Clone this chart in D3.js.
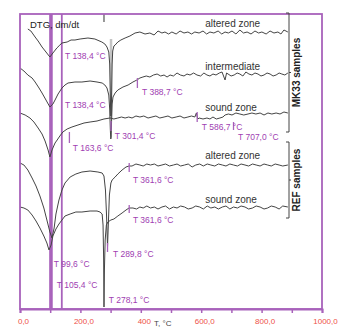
<!DOCTYPE html>
<html>
<head>
<meta charset="utf-8">
<script src="https://cdn.jsdelivr.net/npm/d3@7"></script>
<style>
  body { margin: 0; background: #fff; }
  text { font-family: "Liberation Sans", Arial, sans-serif; }
</style>
</head>
<body>
<svg id="chart" width="340" height="327"></svg>
<script>
// DTG curves, [T in °C, signal in arbitrary units]
var mkAltered = [[26,280],[36,278],[50,272],[60,268],[73,262],[86,257],[99,252],[109,256],[122,261],[132,264],[139,266],[156,267],[169,269],[182,269],[199,270],[225,271],[248,270],[271,267],[281,265],[288,262],[294,257],[297,245],[299,215],[300.5,193],[302,194],[303.5,218],[305,245],[307,258],[311,263],[315,264],[324,267],[334,269],[348,271],[364,273],[381,276],[397,277],[414,275],[430,276],[444,274],[457,278],[470,276],[480,277],[492,275],[503,277],[517,275],[530,278],[543,276],[556,277],[568,275],[579,277],[593,276],[606,278],[618,275],[629,277],[642,276],[656,278],[668,275],[679,277],[690,276],[702,278],[715,275],[728,279],[740,276],[752,277],[765,275],[778,278],[790,276],[801,277],[815,275],[828,278],[841,276],[854,277],[864,275],[874,279],[887,277]];
var mkInter = [[0,241],[13,238],[26,234],[40,231],[50,227],[63,221],[73,216],[86,209],[99,202],[109,205],[116,209],[126,215],[139,221],[149,224],[159,226],[182,227],[205,227],[232,228],[255,227],[272,226],[281,224],[288,221],[294,214],[297,200],[299,180],[300.5,170],[302,172],[303.5,192],[305,205],[308,212],[315,216],[324,219],[341,222],[358,224],[374,227],[387,229],[397,231],[407,232],[418,233],[430,232],[442,234],[454,235],[466,233],[477,234],[487,232],[497,234],[508,233],[520,236],[531,234],[543,233],[553,235],[563,234],[575,236],[586,234],[598,233],[609,236],[619,234],[629,233],[639,235],[649,234],[660,236],[669,237],[679,229],[684,236],[689,235],[699,233],[709,234],[719,236],[728,235],[738,233],[748,237],[758,235],[768,234],[778,236],[788,235],[798,233],[808,234],[818,236],[828,235],[838,233],[848,234],[858,236],[867,235],[877,234],[887,236]];
var mkSound = [[0,196],[17,194],[33,191],[46,187],[60,181],[73,175],[83,168],[93,159],[99,152],[106,159],[116,166],[123,169],[132,173],[142,177],[156,180],[172,182],[192,184],[212,186],[232,187],[255,188],[278,190],[298,191],[311,190],[324,191],[336,192],[348,191],[360,192],[371,191],[384,193],[397,192],[410,193],[424,191],[437,192],[450,193],[463,191],[477,192],[490,193],[503,191],[517,192],[530,193],[543,191],[556,192],[568,193],[579,192],[584,196],[589,190],[593,191],[606,190],[619,191],[629,190],[639,192],[650,190],[662,191],[672,192],[679,194],[690,195],[702,194],[715,196],[728,195],[741,194],[755,195],[768,196],[781,195],[795,196],[808,194],[821,196],[834,195],[848,196],[861,195],[874,197],[887,196]];
var refAltered = [[0,146],[13,144],[26,139],[40,131],[53,123],[66,113],[79,101],[89,89],[99,77],[106,71],[113,81],[119,95],[129,109],[139,119],[149,126],[166,132],[185,135],[205,137],[232,138],[258,137],[272,136],[278,133],[283,119],[286.5,94],[289.8,62],[293,89],[296,114],[301,126],[305,129],[315,132],[324,135],[338,139],[351,142],[361,143],[371,143],[384,145],[397,144],[408,143],[420,145],[432,144],[445,145],[457,143],[470,144],[482,145],[495,143],[508,144],[520,145],[532,143],[545,144],[557,145],[570,142],[582,144],[595,145],[607,143],[620,145],[632,144],[645,143],[657,145],[670,144],[682,143],[695,145],[707,144],[720,143],[732,145],[745,144],[757,143],[770,145],[782,144],[795,143],[808,145],[820,144],[832,143],[845,145],[858,144],[870,143],[887,144]];
var refSound = [[0,102],[13,101],[26,99],[40,94],[53,88],[66,81],[79,73],[89,66],[96,59],[103,64],[109,73],[119,80],[129,85],[139,89],[149,93],[166,95],[185,97],[205,97],[232,98],[255,98],[265,97],[272,95],[275,84],[277,49],[278.1,2],[279.5,39],[282,69],[286,84],[291,87],[301,89],[311,90],[324,93],[338,96],[351,99],[361,101],[374,101],[386,100],[397,102],[408,101],[420,103],[432,101],[445,102],[457,100],[470,102],[482,103],[495,100],[508,102],[520,101],[532,103],[545,102],[557,100],[570,101],[582,103],[595,102],[607,100],[620,103],[632,101],[645,102],[657,100],[670,102],[682,103],[695,100],[707,102],[720,101],[732,103],[745,102],[757,100],[770,101],[782,103],[795,102],[808,100],[820,101],[832,103],[845,102],[858,100],[870,103],[887,102]];

var curves = [mkAltered, mkInter, mkSound, refAltered, refSound];
var curveNames = ["altered zone", "intermediate", "sound zone", "altered zone", "sound zone"];
var curveNameAt = [[613,282],[613,239],[613,198],[613,150],[613,106]];

// full height marker lines and short peak marks
var fullLines = [99.6, 105.4, 138.4];
var peakMarks = [[163.6,177,166],[388.7,231,221],[301.4,188,178],[586.7,197,187],[707.0,187,179],[361.6,146,137],[361.6,104,96],[289.8,66,57]];
var peakLabels = [
  ["T 138,4 °C",149,250],["T 138,4 °C",149,201],["T 163,6 °C",175,158],["T 301,4 °C",314,170],
  ["T 388,7 °C",404,214],["T 586,7 °C",602,179],["T 707,0 °C",722,169],["T 361,6 °C",374,126],
  ["T 361,6 °C",374,86],["T 289,8 °C",308,52],["T 99,6 °C",112,42],["T 105,4 °C",122,21],["T 278,1 °C",294,6]
];

var xTicks = [0,100,200,300,400,500,600,700,800,900,1000];
var xTickLabels = ["0,0","","200,0","","400","","600,0","","800,0","","1000,0"];

var purple = "#a862bb";
var svg = d3.select("#chart");
var x = d3.scaleLinear().domain([0, 1000]).range([20, 322]);
var y = d3.scaleLinear().domain([0, 295]).range([309, 14]);

// grey band at 301.4 dip
svg.append("line")
  .attr("x1", x(301.4)).attr("x2", x(301.4))
  .attr("y1", y(270)).attr("y2", y(191))
  .attr("stroke", "#c4c4c4").attr("stroke-width", 2.5);

// vertical marker lines
svg.selectAll(".vline").data(fullLines).enter().append("line")
  .attr("class", "vline")
  .attr("x1", function(d){ return x(d); }).attr("x2", function(d){ return x(d); })
  .attr("y1", y(295)).attr("y2", y(0))
  .attr("stroke", purple).attr("stroke-width", 1.8);

// small black tick on top
svg.append("line")
  .attr("x1", x(278.1)).attr("x2", x(278.1))
  .attr("y1", y(295)).attr("y2", y(287))
  .attr("stroke", "#333").attr("stroke-width", 1);

var line = d3.line()
  .x(function(d){ return x(d[0]); })
  .y(function(d){ return y(d[1]); });

svg.selectAll(".curve").data(curves).enter().append("path")
  .attr("class", "curve")
  .attr("d", line)
  .attr("fill", "none")
  .attr("stroke", "#444")
  .attr("stroke-width", 1);

svg.selectAll(".pmark").data(peakMarks).enter().append("line")
  .attr("class", "pmark")
  .attr("x1", function(d){ return x(d[0]); }).attr("x2", function(d){ return x(d[0]); })
  .attr("y1", function(d){ return y(d[1]); }).attr("y2", function(d){ return y(d[2]); })
  .attr("stroke", purple).attr("stroke-width", 1.3);

svg.selectAll(".plabel").data(peakLabels).enter().append("text")
  .attr("class", "plabel")
  .attr("x", function(d){ return x(d[1]); })
  .attr("y", function(d){ return y(d[2]); })
  .attr("font-size", "8.5px")
  .attr("fill", "#a040b2")
  .text(function(d){ return d[0]; });

svg.selectAll(".cname").data(curveNames).enter().append("text")
  .attr("class", "cname")
  .attr("x", function(d, i){ return x(curveNameAt[i][0]); })
  .attr("y", function(d, i){ return y(curveNameAt[i][1]); })
  .attr("font-size", "10px")
  .attr("fill", "#333")
  .text(function(d){ return d; });

svg.append("text")
  .attr("x", 30).attr("y", 28)
  .attr("font-size", "9.5px").attr("fill", "#222")
  .text("DTG, dm/dt");

// frame
svg.append("rect")
  .attr("x", 20).attr("y", 14)
  .attr("width", 302).attr("height", 295)
  .attr("fill", "none")
  .attr("stroke", purple).attr("stroke-width", 1.8);

// x axis
var axis = svg.append("g")
  .attr("transform", "translate(0,309)")
  .call(d3.axisBottom(x).tickValues(xTicks).tickSize(4).tickPadding(5)
    .tickFormat(function(d, i){ return xTickLabels[i]; }));
axis.select(".domain").attr("stroke", purple).attr("stroke-width", 2);
axis.selectAll(".tick line").attr("stroke", purple).attr("stroke-width", 1.5);
axis.selectAll(".tick text")
  .attr("font-family", "Liberation Sans, Arial, sans-serif")
  .attr("font-size", "8px").attr("fill", "#ee5048").attr("dx", 3);

svg.append("text")
  .attr("x", 154).attr("y", 326)
  .attr("font-size", "8px").attr("fill", "#444")
  .text("T, °C");

// brackets on the right
function bracket(y0, y1, label) {
  var bx = 289, ym = (y0 + y1) / 2;
  svg.append("path")
    .attr("d", "M" + (bx - 3) + "," + y0 + "H" + bx + "V" + y1 + "H" + (bx - 3)
      + "M" + bx + "," + ym + "h2")
    .attr("fill", "none").attr("stroke", "#444").attr("stroke-width", 1);
  svg.append("text")
    .attr("transform", "translate(" + (bx + 11) + "," + ym + ") rotate(-90)")
    .attr("text-anchor", "middle")
    .attr("font-size", "10px").attr("font-weight", "bold").attr("fill", "#222")
    .text(label);
}
bracket(13, 132, "MK33 samples");
bracket(142, 218, "REF samples");
</script>
</body>
</html>
